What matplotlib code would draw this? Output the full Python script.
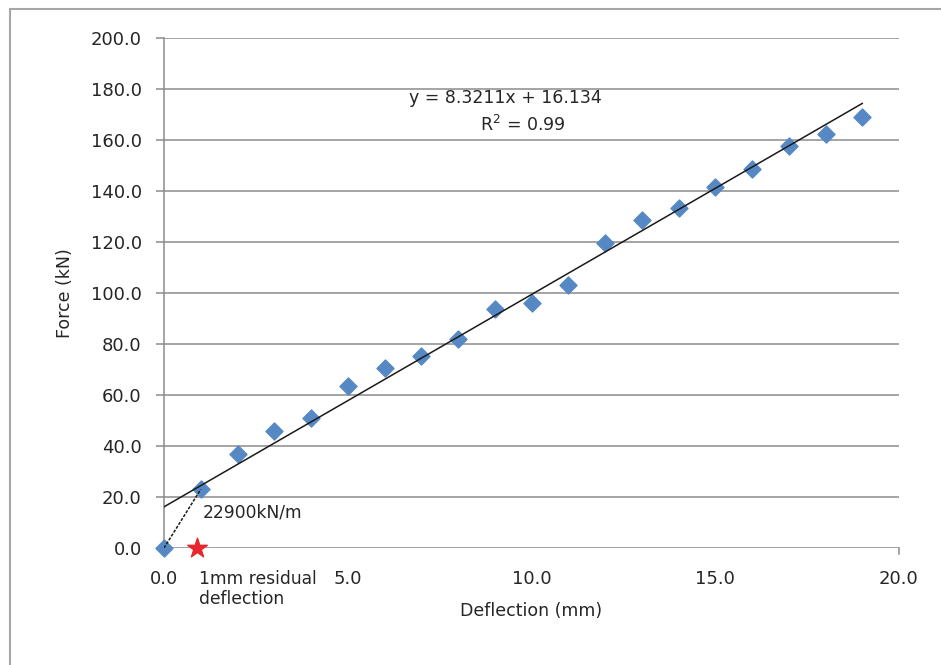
import matplotlib.pyplot as plt
from matplotlib.patches import Rectangle
import numpy as np

# measured data
deflection = [0, 1, 2, 3, 4, 5, 6, 7, 8, 9, 10, 11, 12, 13, 14, 15, 16, 17, 18, 19]
force = [0.0, 23.0, 36.7, 45.9, 50.8, 63.6, 70.7, 75.3, 81.8, 93.7,
         95.9, 103.1, 119.4, 128.6, 133.2, 141.6, 148.4, 157.6, 162.3, 169.1]

# linear trend (Excel trendline)
slope = 8.3211
intercept = 16.134

# residual deflection marker
residual_x = [0.9]
residual_y = [0.0]

xticks = [0, 5, 10, 15, 20]
yticks = [0, 20, 40, 60, 80, 100, 120, 140, 160, 180, 200]

plt.rcParams['font.family'] = ['DejaVu Sans']

fig = plt.figure(figsize=(9.41, 6.65), dpi=100)
ax = fig.add_axes([164/941, 1 - 548/665, (899 - 164)/941, (548 - 37.7)/665])

# outer chart border
fig.patches.append(Rectangle((9.5/941, -0.01), 1.0, 1 - 9.5/665 + 0.01,
                             transform=fig.transFigure, fill=False,
                             edgecolor='#a6a6a6', linewidth=1.5))

ax.set_xlim(0, 20)
ax.set_ylim(0, 200)
ax.set_xticks(xticks)
ax.set_yticks(yticks)
ax.set_xticklabels(['%.1f' % t for t in xticks])
ax.set_yticklabels(['%.1f' % t for t in yticks])

# grid and axes styling
ax.grid(True, axis='y', color='#8c8c8c', linewidth=1.1)
ax.set_axisbelow(True)
for side in ['top', 'right']:
    ax.spines[side].set_visible(False)
ax.spines['bottom'].set_visible(False)
ax.spines['left'].set_color('#8c8c8c')
ax.spines['left'].set_linewidth(1.1)
ax.tick_params(axis='y', length=6, color='#8c8c8c', width=1.1, labelsize=13, pad=10,
               labelcolor='#262626')
ax.tick_params(axis='x', length=0, labelsize=13, pad=16, labelcolor='#262626')
ax.plot([20, 20], [0, -2.5], color='#8c8c8c', linewidth=1.1, clip_on=False)

# data and trendline
ax.scatter(deflection, force, marker='D', s=75, color='#5689c4', zorder=3, clip_on=False)
xs = np.array([deflection[0], deflection[-1]])
ax.plot(xs, slope * xs + intercept, color='#1a1a1a', linewidth=1.1, zorder=4)

# initial stiffness line
ax.plot(deflection[:2], force[:2], color='#1a1a1a', linewidth=1.1,
        linestyle=(0, (2, 1)), zorder=4)
ax.text(1.05, 14, '22900kN/m', fontsize=12.3, color='#262626', va='center', ha='left')

# residual deflection
ax.scatter(residual_x, residual_y, marker='*', s=220, color='#e8262d', zorder=5, clip_on=False)
ax.text(0.95, -8.5, '1mm residual\ndeflection', fontsize=12.3, color='#262626',
        va='top', ha='left', linespacing=1.2)

# trendline label
ax.text(9.3, 176.5, 'y = 8.3211x + 16.134', fontsize=12.5, color='#262626',
        ha='center', va='center')
ax.text(9.75, 166, 'R$^2$ = 0.99', fontsize=12.5, color='#262626',
        ha='center', va='center')

ax.set_xlabel('Deflection (mm)', fontsize=12.5, color='#262626', labelpad=10)
ax.set_ylabel('Force (kN)', fontsize=12.5, color='#262626', labelpad=12)

fig.savefig('out.png', dpi=100)
